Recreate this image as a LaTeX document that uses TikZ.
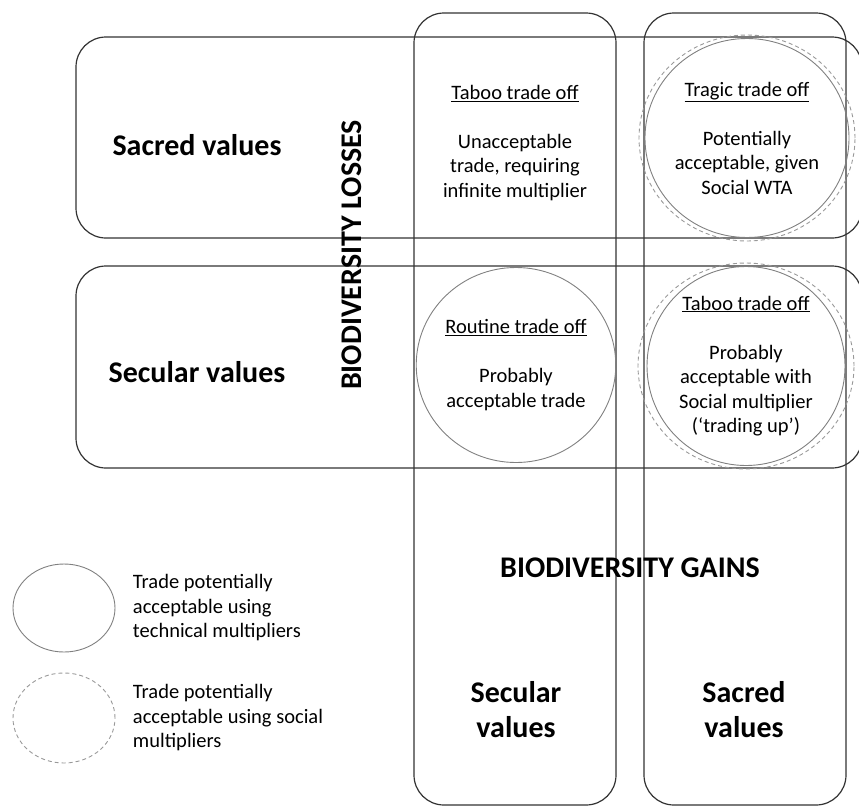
\documentclass[tikz,border=0pt]{standalone}
\usepackage{fontspec}
\setmainfont{Carlito}
\usetikzlibrary{positioning, shapes.geometric}

\begin{document}
\begin{tikzpicture}[x=1pt, y=-1pt, every node/.style={align=center, font=\fontsize{20.5}{24.5}\selectfont},
  box/.style={draw=black!80, line width=1.2pt, rounded corners=30pt, inner sep=0pt},
  tech/.style={ellipse, draw=black!50, line width=0.9pt, inner sep=0pt},
  social/.style={ellipse, draw=black!40, line width=0.9pt, dash pattern=on 4pt off 3pt, inner sep=0pt},
  big/.style={font=\fontsize{30}{35}\selectfont\bfseries}]
\useasboundingbox (0,0) rectangle (859,806);
\clip (0,0) rectangle (859,806);
\node[box, minimum width=786pt, minimum height=201pt] (sacredloss) at (469,137.5) {};
\node[box, minimum width=786pt, minimum height=202pt] (secularloss) at (469,367) {};
\node[box, minimum width=202pt, minimum height=792pt] (seculargain) at (515,409) {};
\node[box, minimum width=202pt, minimum height=792pt] (sacredgain) at (745,409) {};
\node[big] (sacredlbl) at (197,145) {Sacred values};
\node[big] (secularlbl) at (197,372) {Secular values};
\node[big, rotate=90] (losses) at (352,255) {BIODIVERSITY LOSSES};
\node[big] (gains) at (630,568) {BIODIVERSITY GAINS};
\node[big] (secularcol) at (516,710) {Secular\\values};
\node[big] (sacredcol) at (744,710) {Sacred\\values};
\node (taboo1) at (515,143) {\underline{Taboo trade off}\\[24.5pt]Unacceptable\\trade, requiring\\infinite multiplier};
\node[tech, minimum width=198pt, minimum height=199pt] (tragic) at (747,138) {\underline{Tragic trade off}\\[24.5pt]Potentially\\acceptable, given\\Social WTA};
\node[social, minimum width=216pt, minimum height=206pt] (tragicsoc) at (tragic.center) {};
\node[tech, minimum width=198pt, minimum height=195pt] (routine) at (516,365) {\underline{Routine trade off}\\[24.5pt]Probably\\acceptable trade};
\node[tech, minimum width=198pt, minimum height=199pt] (taboo2) at (746,366) {\underline{Taboo trade off}\\[24.5pt]Probably\\acceptable with\\Social multiplier\\(‘trading up’)};
\node[social, minimum width=216pt, minimum height=206pt] (taboo2soc) at (taboo2.center) {};
\node[tech, minimum width=102pt, minimum height=88pt] (keytech) at (64,608) {};
\node[social, minimum width=102pt, minimum height=90pt] (keysoc) at (64,718) {};
\node[align=left, right=14pt of keytech] (keytechlbl) {Trade potentially\\acceptable using\\technical multipliers};
\node[align=left, right=14pt of keysoc] (keysoclbl) {Trade potentially\\acceptable using social\\multipliers};
\end{tikzpicture}
\end{document}
